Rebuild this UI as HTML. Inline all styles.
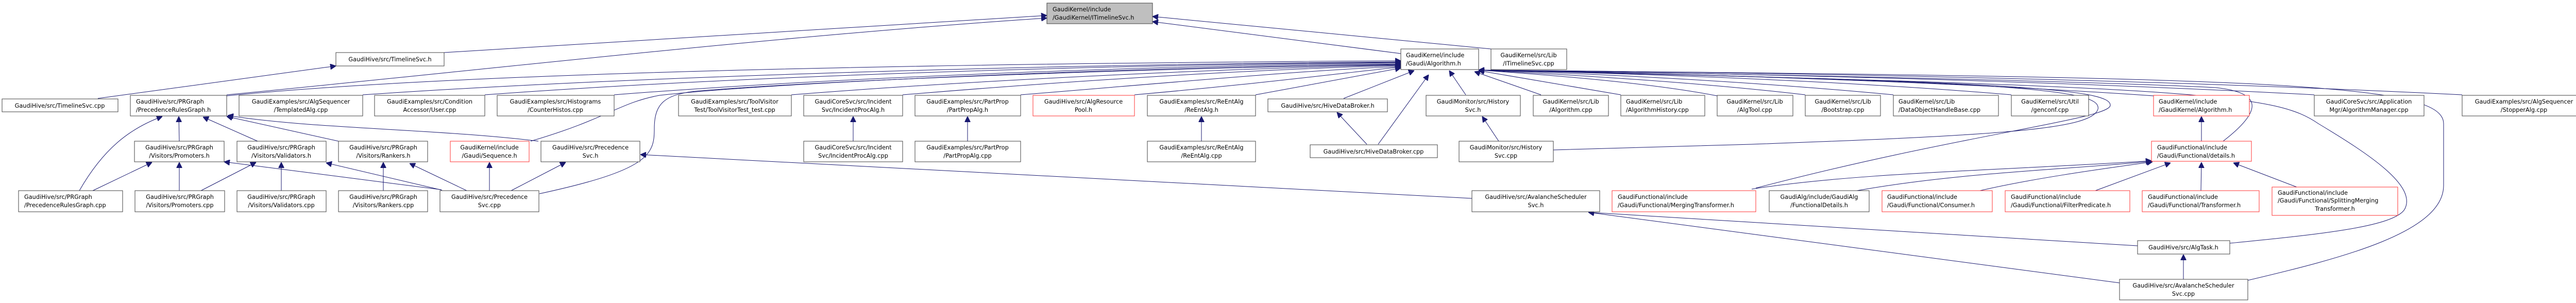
<!DOCTYPE html>
<html><head><meta charset="utf-8"><style>
html,body{margin:0;padding:0;background:#fff;}
svg{display:block;}
text{font-family:"DejaVu Sans","Liberation Sans",sans-serif;font-size:11.3px;fill:#000;}
.b{fill:#fff;stroke:#404040;stroke-width:1;}
.r{fill:#fff;stroke:#ff3333;stroke-width:1;}
.g{fill:#bfbfbf;stroke:#404040;stroke-width:1;}
.e{fill:none;stroke:#191970;stroke-width:1;}
</style></head><body>
<svg width="5025" height="588" viewBox="0 0 5025 588" xmlns="http://www.w3.org/2000/svg">
<defs><marker id="a" viewBox="0 0 10 10" refX="10" refY="5" markerWidth="11" markerHeight="11" markerUnits="userSpaceOnUse" orient="auto"><path d="M0,0 L10,5 L0,10 z" fill="#191970" stroke="#191970"/></marker></defs>
<g class="e" marker-end="url(#a)">
<path d="M862,102 L2032,30"/>
<path d="M440,184 C900,140 1500,70 2032,35"/>
<path d="M2894,95 L2237,32"/>
<path d="M2719,104 L2237,42"/>
<path d="M190,191 L652,128"/>
<path d="M440,186 C800,150 1500,125 2719,118"/>
<path d="M704,184 C1200,150 2000,125 2719,120"/>
<path d="M941,184 C1400,150 2100,126 2719,121"/>
<path d="M1192,184 C1600,152 2200,128 2719,122"/>
<path d="M1030,274 C1180,230 1200,200 1280,185 C1500,160 2200,130 2719,124"/>
<path d="M1047,376 C1260,330 1270,300 1270,250 C1270,200 1290,182 1360,176 C1700,150 2300,132 2719,125"/>
<path d="M1536,184 C1900,155 2400,132 2719,126"/>
<path d="M1752,184 C2100,155 2450,134 2719,127"/>
<path d="M1981,184 C2300,158 2550,135 2719,129"/>
<path d="M2202,184 C2450,162 2620,140 2719,130"/>
<path d="M2437,184 L2719,132"/>
<path d="M2608,191 L2745,137"/>
<path d="M2675,280 L2773,145"/>
<path d="M2845,184 L2813,137"/>
<path d="M2991,184 L2862,139"/>
<path d="M3146,184 L2870,137"/>
<path d="M3333,186 C3200,160 3000,145 2870,136"/>
<path d="M3504,184 C3300,160 3050,145 2870,136"/>
<path d="M3675,184 C3400,158 3100,143 2870,136"/>
<path d="M3904,184 C3600,158 3200,143 2870,136"/>
<path d="M4180,186 C3800,160 3300,143 2870,136"/>
<path d="M4492,184 C4000,158 3400,142 2870,136"/>
<path d="M4779,184 C4200,155 3500,141 2870,136"/>
<path d="M3015,291 L3400,280 C3900,262 4060,250 4072,212 C4082,172 3900,158 2870,136"/>
<path d="M3408,365 C3800,262 4090,232 4096,205 C4100,172 3900,158 2870,136"/>
<path d="M4315,274 C4385,220 4400,180 4300,170 C4000,155 3300,142 2870,136"/>
<path d="M4328,472 C4500,455 4650,440 4668,405 C4690,360 4600,300 4500,240 C4420,185 4300,168 2870,136"/>
<path d="M4363,544 C4550,500 4743,450 4743,360 L4743,240 C4743,160 4400,150 2870,136"/>
<path d="M154,370 C200,290 250,250 315,226"/>
<path d="M348,274 L347,226"/>
<path d="M500,274 L394,227"/>
<path d="M657,274 L440,226"/>
<path d="M1045,274 C850,250 600,250 442,224"/>
<path d="M180,370 L295,315"/>
<path d="M348,370 L348,315"/>
<path d="M856,368 L435,314"/>
<path d="M390,370 L497,315"/>
<path d="M546,370 L546,315"/>
<path d="M858,369 L633,316"/>
<path d="M744,370 L744,315"/>
<path d="M906,370 L795,317"/>
<path d="M950,370 L950,315"/>
<path d="M992,370 L1098,315"/>
<path d="M2857,385 L1243,300"/>
<path d="M1656,274 L1656,226"/>
<path d="M1878,274 L1878,226"/>
<path d="M2332,274 L2332,226"/>
<path d="M2653,280 L2595,218"/>
<path d="M2909,274 L2877,226"/>
<path d="M4149,477 L3083,412"/>
<path d="M4114,549 L3083,412"/>
<path d="M4238,542 L4238,494"/>
<path d="M3400,367 C3600,335 3900,330 4176,312"/>
<path d="M3604,370 C3800,335 4000,330 4176,313"/>
<path d="M3843,370 C3950,345 4100,325 4178,314"/>
<path d="M4067,370 L4213,316"/>
<path d="M4272,370 L4273,315"/>
<path d="M4458,363 L4335,316"/>
<path d="M4273,274 L4273,226"/>
</g>
<!-- boxes -->
<rect class="g" x="2032" y="6" width="205" height="40"/>
<text x="2043" y="22">GaudiKernel/include</text><text x="2043" y="38">/GaudiKernel/ITimelineSvc.h</text>

<rect class="b" x="652" y="102" width="210" height="26"/><text x="757" y="119" text-anchor="middle">GaudiHive/src/TimelineSvc.h</text>
<rect class="b" x="2719" y="95" width="151" height="40"/><text x="2729" y="111">GaudiKernel/include</text><text x="2729" y="127">/Gaudi/Algorithm.h</text>
<rect class="b" x="2894" y="95" width="147" height="40"/><text x="2967" y="111" text-anchor="middle">GaudiKernel/src/Lib</text><text x="2967" y="127" text-anchor="middle">/ITimelineSvc.cpp</text>

<rect class="b" x="4" y="192" width="225" height="25"/><text x="116" y="209" text-anchor="middle">GaudiHive/src/TimelineSvc.cpp</text>
<rect class="b" x="253" y="185" width="187" height="40"/><text x="264" y="201">GaudiHive/src/PRGraph</text><text x="264" y="217">/PrecedenceRulesGraph.h</text>
<rect class="b" x="464" y="185" width="240" height="40"/><text x="584" y="201" text-anchor="middle">GaudiExamples/src/AlgSequencer</text><text x="584" y="217" text-anchor="middle">/TemplatedAlg.cpp</text>
<rect class="b" x="727" y="185" width="214" height="40"/><text x="834" y="201" text-anchor="middle">GaudiExamples/src/Condition</text><text x="834" y="217" text-anchor="middle">Accessor/User.cpp</text>
<rect class="b" x="965" y="185" width="227" height="40"/><text x="1078" y="201" text-anchor="middle">GaudiExamples/src/Histograms</text><text x="1078" y="217" text-anchor="middle">/CounterHistos.cpp</text>
<rect class="b" x="1317" y="185" width="219" height="40"/><text x="1426" y="201" text-anchor="middle">GaudiExamples/src/ToolVisitor</text><text x="1426" y="217" text-anchor="middle">Test/ToolVisitorTest_test.cpp</text>
<rect class="b" x="1560" y="185" width="192" height="40"/><text x="1656" y="201" text-anchor="middle">GaudiCoreSvc/src/Incident</text><text x="1656" y="217" text-anchor="middle">Svc/IncidentProcAlg.h</text>
<rect class="b" x="1776" y="185" width="205" height="40"/><text x="1878" y="201" text-anchor="middle">GaudiExamples/src/PartProp</text><text x="1878" y="217" text-anchor="middle">/PartPropAlg.h</text>
<rect class="r" x="2005" y="185" width="197" height="40"/><text x="2103" y="201" text-anchor="middle">GaudiHive/src/AlgResource</text><text x="2103" y="217" text-anchor="middle">Pool.h</text>
<rect class="b" x="2227" y="185" width="210" height="40"/><text x="2332" y="201" text-anchor="middle">GaudiExamples/src/ReEntAlg</text><text x="2332" y="217" text-anchor="middle">/ReEntAlg.h</text>
<rect class="b" x="2461" y="192" width="232" height="25"/><text x="2577" y="209" text-anchor="middle">GaudiHive/src/HiveDataBroker.h</text>
<rect class="b" x="2768" y="185" width="183" height="40"/><text x="2859" y="201" text-anchor="middle">GaudiMonitor/src/History</text><text x="2859" y="217" text-anchor="middle">Svc.h</text>
<rect class="b" x="2976" y="185" width="146" height="40"/><text x="3049" y="201" text-anchor="middle">GaudiKernel/src/Lib</text><text x="3049" y="217" text-anchor="middle">/Algorithm.cpp</text>
<rect class="b" x="3146" y="185" width="163" height="40"/><text x="3156" y="201">GaudiKernel/src/Lib</text><text x="3156" y="217">/AlgorithmHistory.cpp</text>
<rect class="b" x="3333" y="185" width="147" height="40"/><text x="3406" y="201" text-anchor="middle">GaudiKernel/src/Lib</text><text x="3406" y="217" text-anchor="middle">/AlgTool.cpp</text>
<rect class="b" x="3504" y="185" width="146" height="40"/><text x="3577" y="201" text-anchor="middle">GaudiKernel/src/Lib</text><text x="3577" y="217" text-anchor="middle">/Bootstrap.cpp</text>
<rect class="b" x="3675" y="185" width="204" height="40"/><text x="3685" y="201">GaudiKernel/src/Lib</text><text x="3685" y="217">/DataObjectHandleBase.cpp</text>
<rect class="b" x="3904" y="185" width="150" height="40"/><text x="3979" y="201" text-anchor="middle">GaudiKernel/src/Util</text><text x="3979" y="217" text-anchor="middle">/genconf.cpp</text>
<rect class="r" x="4180" y="185" width="186" height="40"/><text x="4190" y="201">GaudiKernel/include</text><text x="4190" y="217">/GaudiKernel/Algorithm.h</text>
<rect class="b" x="4492" y="185" width="213" height="40"/><text x="4598" y="201" text-anchor="middle">GaudiCoreSvc/src/Application</text><text x="4598" y="217" text-anchor="middle">Mgr/AlgorithmManager.cpp</text>
<rect class="b" x="4779" y="185" width="241" height="40"/><text x="4899" y="201" text-anchor="middle">GaudiExamples/src/AlgSequencer</text><text x="4899" y="217" text-anchor="middle">/StopperAlg.cpp</text>

<rect class="b" x="261" y="274" width="174" height="40"/><text x="348" y="290" text-anchor="middle">GaudiHive/src/PRGraph</text><text x="348" y="306" text-anchor="middle">/Visitors/Promoters.h</text>
<rect class="b" x="460" y="274" width="173" height="40"/><text x="546" y="290" text-anchor="middle">GaudiHive/src/PRGraph</text><text x="546" y="306" text-anchor="middle">/Visitors/Validators.h</text>
<rect class="b" x="657" y="274" width="173" height="40"/><text x="744" y="290" text-anchor="middle">GaudiHive/src/PRGraph</text><text x="744" y="306" text-anchor="middle">/Visitors/Rankers.h</text>
<rect class="r" x="874" y="274" width="153" height="40"/><text x="950" y="290" text-anchor="middle">GaudiKernel/include</text><text x="950" y="306" text-anchor="middle">/Gaudi/Sequence.h</text>
<rect class="b" x="1050" y="274" width="192" height="40"/><text x="1146" y="290" text-anchor="middle">GaudiHive/src/Precedence</text><text x="1146" y="306" text-anchor="middle">Svc.h</text>
<rect class="b" x="1560" y="274" width="192" height="40"/><text x="1656" y="290" text-anchor="middle">GaudiCoreSvc/src/Incident</text><text x="1656" y="306" text-anchor="middle">Svc/IncidentProcAlg.cpp</text>
<rect class="b" x="1776" y="274" width="205" height="40"/><text x="1878" y="290" text-anchor="middle">GaudiExamples/src/PartProp</text><text x="1878" y="306" text-anchor="middle">/PartPropAlg.cpp</text>
<rect class="b" x="2227" y="274" width="210" height="40"/><text x="2332" y="290" text-anchor="middle">GaudiExamples/src/ReEntAlg</text><text x="2332" y="306" text-anchor="middle">/ReEntAlg.cpp</text>
<rect class="b" x="2543" y="281" width="247" height="25"/><text x="2666" y="298" text-anchor="middle">GaudiHive/src/HiveDataBroker.cpp</text>
<rect class="b" x="2832" y="274" width="183" height="40"/><text x="2923" y="290" text-anchor="middle">GaudiMonitor/src/History</text><text x="2923" y="306" text-anchor="middle">Svc.cpp</text>
<rect class="r" x="4176" y="274" width="194" height="39"/><text x="4187" y="290">GaudiFunctional/include</text><text x="4187" y="306">/Gaudi/Functional/details.h</text>

<rect class="b" x="36" y="370" width="202" height="41"/><text x="47" y="386">GaudiHive/src/PRGraph</text><text x="47" y="402">/PrecedenceRulesGraph.cpp</text>
<rect class="b" x="262" y="370" width="174" height="41"/><text x="349" y="386" text-anchor="middle">GaudiHive/src/PRGraph</text><text x="349" y="402" text-anchor="middle">/Visitors/Promoters.cpp</text>
<rect class="b" x="460" y="370" width="173" height="41"/><text x="546" y="386" text-anchor="middle">GaudiHive/src/PRGraph</text><text x="546" y="402" text-anchor="middle">/Visitors/Validators.cpp</text>
<rect class="b" x="657" y="370" width="173" height="41"/><text x="744" y="386" text-anchor="middle">GaudiHive/src/PRGraph</text><text x="744" y="402" text-anchor="middle">/Visitors/Rankers.cpp</text>
<rect class="b" x="854" y="370" width="192" height="41"/><text x="950" y="386" text-anchor="middle">GaudiHive/src/Precedence</text><text x="950" y="402" text-anchor="middle">Svc.cpp</text>
<rect class="b" x="2857" y="370" width="248" height="41"/><text x="2981" y="386" text-anchor="middle">GaudiHive/src/AvalancheScheduler</text><text x="2981" y="402" text-anchor="middle">Svc.h</text>
<rect class="r" x="3129" y="370" width="279" height="41"/><text x="3140" y="386">GaudiFunctional/include</text><text x="3140" y="402">/Gaudi/Functional/MergingTransformer.h</text>
<rect class="b" x="3434" y="370" width="194" height="41"/><text x="3531" y="386" text-anchor="middle">GaudiAlg/include/GaudiAlg</text><text x="3531" y="402" text-anchor="middle">/FunctionalDetails.h</text>
<rect class="r" x="3653" y="370" width="214" height="41"/><text x="3663" y="386">GaudiFunctional/include</text><text x="3663" y="402">/Gaudi/Functional/Consumer.h</text>
<rect class="r" x="3892" y="370" width="242" height="41"/><text x="3903" y="386">GaudiFunctional/include</text><text x="3903" y="402">/Gaudi/Functional/FilterPredicate.h</text>
<rect class="r" x="4158" y="370" width="227" height="41"/><text x="4169" y="386">GaudiFunctional/include</text><text x="4169" y="402">/Gaudi/Functional/Transformer.h</text>
<rect class="r" x="4410" y="363" width="244" height="55"/><text x="4421" y="378">GaudiFunctional/include</text><text x="4421" y="393">/Gaudi/Functional/SplittingMerging</text><text x="4532" y="409" text-anchor="middle">Transformer.h</text>

<rect class="b" x="4149" y="467" width="179" height="26"/><text x="4238" y="484" text-anchor="middle">GaudiHive/src/AlgTask.h</text>
<rect class="b" x="4114" y="542" width="249" height="40"/><text x="4238" y="558" text-anchor="middle">GaudiHive/src/AvalancheScheduler</text><text x="4238" y="574" text-anchor="middle">Svc.cpp</text>
</svg>
</body></html>
